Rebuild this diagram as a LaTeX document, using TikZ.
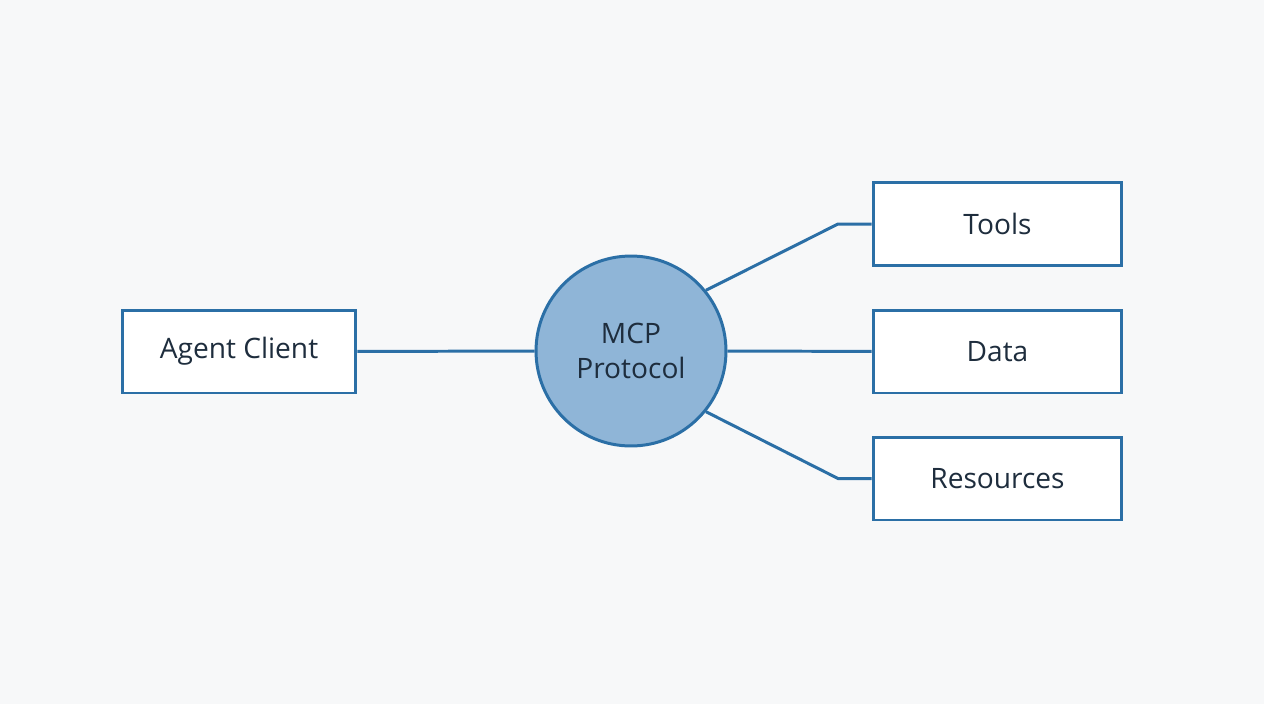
\documentclass[tikz,border=0pt]{standalone}
\usepackage{fontspec}
\setmainfont{Open Sans}
\definecolor{edgeblue}{HTML}{2B6FA6}
\definecolor{hubfill}{HTML}{8FB5D7}
\definecolor{inkdark}{HTML}{1E2D3D}
\definecolor{paper}{HTML}{F7F8F9}
\begin{document}
\begin{tikzpicture}[x=0.02cm, y=-0.02cm,
box/.style={draw=edgeblue, line width=1.7pt, fill=white, minimum width=4.7cm,
    minimum height=1.66cm, text=inkdark, font=\fontsize{16}{19}\selectfont},
link/.style={draw=edgeblue, line width=1.7pt}
]
\fill[paper] (0,0) rectangle (1264,704);
\useasboundingbox (0,0) rectangle (1264,704);

\node[box, minimum width=4.68cm] (client) at (239,351.5) {Agent Client};
\node[circle, draw=edgeblue, line width=1.7pt, fill=hubfill, minimum size=3.8cm,
    align=center, text=inkdark, font=\fontsize{16}{20}\selectfont] (mcp) at (631,351) {MCP\\Protocol};
\node[box, minimum width=4.98cm] (tools) at (997.5,224) {Tools};
\node[box, minimum width=4.98cm] (data) at (997.5,351.5) {Data};
\node[box, minimum width=4.98cm] (res) at (997.5,478.5) {Resources};

\coordinate (bendT) at (838,224);
\coordinate (bendR) at (838,478.5);

\draw[link] (client) -- (mcp);
\draw[link] (mcp) -- (data);
\draw[link] (mcp.39) -- (bendT) -- (tools.west);
\draw[link] (mcp.-39) -- (bendR) -- (res.west);
\end{tikzpicture}
\end{document}
